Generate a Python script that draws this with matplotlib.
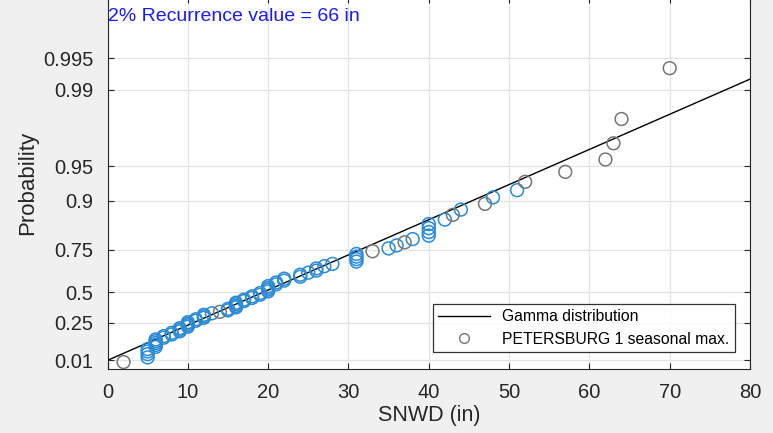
import math
import numpy as np
import matplotlib
matplotlib.use("Agg")
import matplotlib.pyplot as plt

# ---------------- data ----------------
snwd = [2, 5, 5, 5, 5, 6, 6, 6, 6, 6, 7, 7, 8, 8, 9, 9, 9, 10, 10, 10, 10,
        11, 11, 12, 12, 12, 13, 14, 15, 15, 16, 16, 16, 16, 17, 17, 18, 18,
        19, 19, 20, 20, 20, 20, 21, 21, 22, 22, 24, 24, 25, 26, 26, 27, 28,
        31, 31, 31, 31, 33, 35, 36, 37, 38, 40, 40, 40, 40, 42, 43, 44, 47,
        48, 51, 52, 57, 62, 63, 64, 70]
# fitted (3-parameter) gamma distribution used for the probability axis
gamma_shape = 2.30
gamma_loc = -2.463
gamma_scale = 11.055
prob_ticks = [0.01, 0.25, 0.5, 0.75, 0.9, 0.95, 0.99, 0.995]
prob_labels = ["0.01", "0.25", "0.5", "0.75", "0.9", "0.95", "0.99", "0.995"]
x_ticks = [0, 10, 20, 30, 40, 50, 60, 70, 80]
title_text = "2% Recurrence value = 66 in"
legend_labels = ["Gamma distribution", "PETERSBURG 1 seasonal max."]

# style: values whose circles are drawn grey instead of blue
grey_values = {2, 14, 33, 37, 43, 47, 52, 57, 62, 63, 64, 70}


# ---------- gamma functions ----------
def gamma_cdf_std(a, x):
    x = np.atleast_1d(np.asarray(x, float))
    out = np.zeros_like(x)
    pos = x > 0
    xp = x[pos]
    K = 500
    k = np.arange(K)
    lc = np.concatenate([[0.0], np.cumsum(np.log(a + np.arange(1, K)))])
    lt = k[:, None] * np.log(xp)[None, :] - lc[:, None]
    m = lt.max(axis=0)
    ls = m + np.log(np.exp(lt - m).sum(axis=0))
    out[pos] = np.exp(a * np.log(xp) - xp - math.lgamma(a + 1) + ls)
    return np.clip(out, 0, 1)


def gamma_ppf_std(a, p):
    p = np.atleast_1d(np.asarray(p, float))
    lo = np.zeros_like(p)
    hi = np.full_like(p, 200.0)
    for _ in range(80):
        mid = 0.5 * (lo + hi)
        c = gamma_cdf_std(a, mid)
        lo = np.where(c < p, mid, lo)
        hi = np.where(c < p, hi, mid)
    return 0.5 * (lo + hi)


def ppf(p):
    return gamma_loc + gamma_scale * gamma_ppf_std(gamma_shape, p)


n = len(snwd)
xs = np.sort(np.array(snwd, float))
pp = (np.arange(1, n + 1) - 0.5) / n
ys = ppf(pp)

# ---------------- figure ----------------
W, H = 773, 433
plt.rcParams["font.family"] = ["Liberation Sans", "DejaVu Sans"]
fig = plt.figure(figsize=(W / 100, H / 100), dpi=100, facecolor="#f0f0f0")
ax = fig.add_axes([107.5 / W, (H - 369) / H, (750 - 107.5) / W, (369 + 3) / H])
ax.set_facecolor("white")
ax.set_xlim(0, 80)
ax.set_ylim(gamma_loc, gamma_loc + 372 / 3.515)

ax.grid(True, color="#e3e3e3", lw=0.9)
ax.set_axisbelow(True)
ax.plot([0, 80], [0, 80], color="black", lw=1.0, label=legend_labels[0], zorder=3)
cols = ["#767676" if v in grey_values else "#2a8ad4" for v in xs]
ax.scatter(xs, ys, s=85, facecolors="none", edgecolors=cols, linewidths=1.1, zorder=4)
ax.plot([], [], ls="none", marker="o", mfc="none", mec="#767676", ms=7,
        label=legend_labels[1])

ax.set_xticks(x_ticks)
ax.set_yticks(ppf(prob_ticks))
ax.set_yticklabels(prob_labels)
ax.tick_params(direction="in", length=4, width=0.8, labelsize=14.5, colors="#262626",
               top=True, right=True, pad=10)
for s in ax.spines.values():
    s.set_color("#262626")
    s.set_linewidth(0.8)
ax.set_xlabel("SNWD (in)", fontsize=15.5, color="#262626", labelpad=2)
ax.set_ylabel("Probability", fontsize=16, color="#262626", labelpad=4)
ax.text(0.05, (360.5 - 16.5) / 3.515, title_text, color="#1a1aff",
        fontsize=14, va="center", ha="left")
leg = ax.legend(loc="lower right", bbox_to_anchor=((735 - 107.5) / 642.5, (369 - 352) / 372),
                borderaxespad=0, fontsize=11.3, frameon=True, fancybox=False,
                edgecolor="black", handlelength=3.3, borderpad=0.35, labelspacing=0.45)
leg.get_frame().set_linewidth(0.9)

fig.savefig("out.png", dpi=100, facecolor=fig.get_facecolor())
